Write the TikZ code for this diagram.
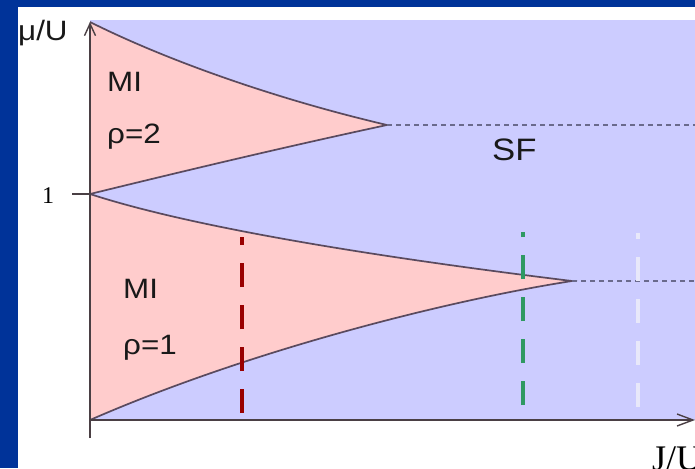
\documentclass[tikz,border=0pt]{standalone}
\usepackage{fontspec}
\setmainfont{Liberation Sans}
\newfontfamily\widesans[FakeStretch=1.12]{Liberation Sans}
\newfontfamily\serifnum{Liberation Serif}
\usetikzlibrary{arrows.meta}
\definecolor{borderblue}{HTML}{003399}
\definecolor{lav}{HTML}{CCCCFF}
\definecolor{pinkfill}{HTML}{FFCCCC}
\definecolor{bnd}{HTML}{5A4A5E}
\definecolor{axisc}{HTML}{4A3F44}
\definecolor{dashc}{HTML}{6A6A8C}
\definecolor{redd}{HTML}{990000}
\definecolor{greend}{HTML}{2E9962}
\definecolor{whited}{HTML}{E8E8FA}
\tikzset{
  boundary/.style={draw=bnd, line width=1.7pt},
  axisline/.style={draw=axisc, line width=1.6pt, -{Straight Barb[length=12pt,width=11pt,line width=1.4pt]}},
  xaxisline/.style={draw=axisc, line width=1.6pt, -{Straight Barb[length=16pt,width=12pt,line width=1.4pt]}},
  pdash/.style={draw=dashc, line width=1.6pt, dash pattern=on 5pt off 4pt},
  cut/.style={line width=4pt, dash pattern=on 24pt off 18pt},
  lbl/.style={inner sep=0pt, anchor=base west, font=\widesans\fontsize{28}{30}\selectfont, text=black!90},
}
\begin{document}
\begin{tikzpicture}[x=1pt,y=-1pt]
\useasboundingbox (0,0) rectangle (695,468);
\clip (0,0) rectangle (695,468);
\fill[borderblue] (0,0) rectangle (695,468);
\fill[white] (18,7) rectangle (695,468);
\fill[lav] (90,20) rectangle (695,420);
% key points
\coordinate (top) at (90,22);
\coordinate (one) at (90,194);
\coordinate (tipA) at (387,125);
\coordinate (tipB) at (572,281);
\coordinate (orig) at (90,420);
\coordinate (endA) at (695,125);
\coordinate (endB) at (695,281);
\coordinate (ybot) at (90,438);
\coordinate (xend) at (695,420);
\coordinate (tickl) at (72,194);
% lobes
\fill[pinkfill] (top) .. controls (170,62) and (280,100) .. (tipA)
  .. controls (280,148) and (180,172) .. (one) -- cycle;
\fill[pinkfill] (one) .. controls (200,230) and (400,260) .. (tipB)
  .. controls (450,300) and (250,350) .. (orig) -- cycle;
\draw[boundary] (top) .. controls (170,62) and (280,100) .. (tipA)
  .. controls (280,148) and (180,172) .. (one);
\draw[boundary] (one) .. controls (200,230) and (400,260) .. (tipB)
  .. controls (450,300) and (250,350) .. (orig);
\draw[pdash] (tipA) -- (endA);
\draw[pdash] (tipB) -- (endB);
% cuts
\coordinate (r0) at (242,413); \coordinate (r1) at (242,237);
\coordinate (g0) at (523,405); \coordinate (g1) at (523,232);
\coordinate (w0) at (638,407); \coordinate (w1) at (638,233);
\draw[cut, redd] (r0) -- (r1);
\draw[cut, greend] (g0) -- (g1);
\draw[cut, whited] (w0) -- (w1);
% axes
\draw[axisline] (ybot) -- (top);
\draw[xaxisline] (orig) -- (xend);
\draw[draw=axisc, line width=1.4pt] (tickl) -- (one);
% labels
\node[lbl] (mu) at (18,41) {μ/U};
\node[lbl] (mi2) at (107,92) {MI};
\node[lbl] (rho2) at (107,143) {ρ=2};
\node[lbl] (mi1) at (123,298) {MI};
\node[lbl] (rho1) at (123,354) {ρ=1};
\node[lbl, font=\widesans\fontsize{31}{33}\selectfont] (sf) at (492,160) {SF};
\node[inner sep=0pt, anchor=base west, font=\serifnum\fontsize{24}{26}\selectfont] (onel) at (42,203) {1};
\node[inner sep=0pt, anchor=base west, font=\serifnum\fontsize{36}{38}\selectfont] (ju) at (652,470) {J/U};
\end{tikzpicture}
\end{document}
